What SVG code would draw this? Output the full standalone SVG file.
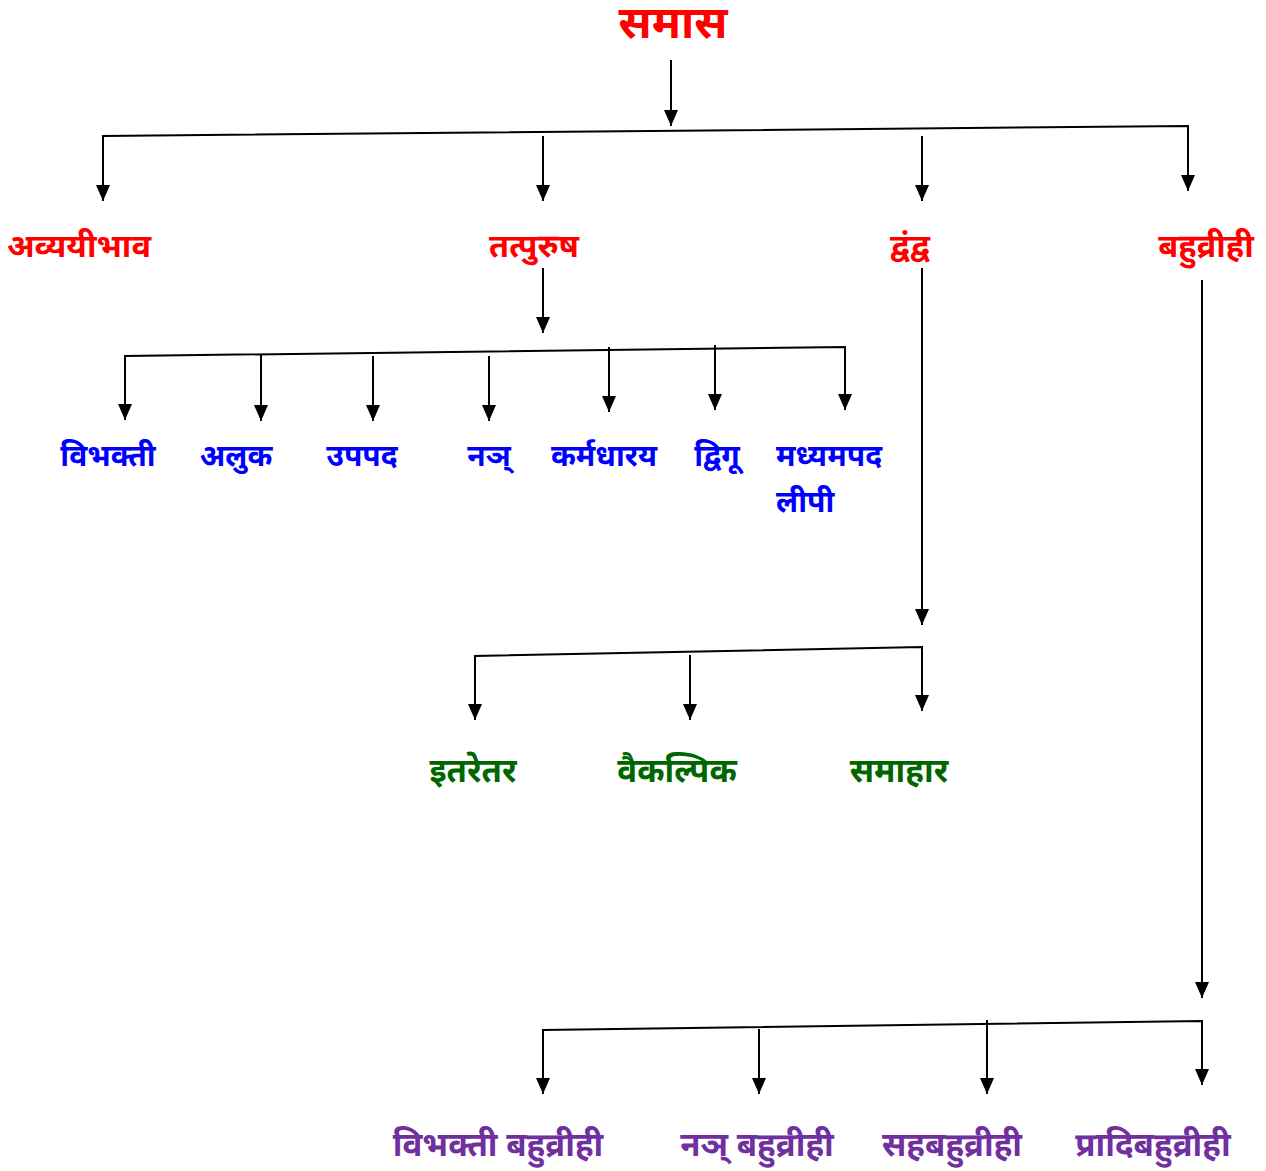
<svg xmlns="http://www.w3.org/2000/svg" width="1266" height="1171" viewBox="0 0 1266 1171">
<style>
text{font-family:"Noto Sans Devanagari","Lohit Devanagari","Noto Sans","DejaVu Sans",sans-serif;font-weight:bold}
.r{fill:#FF0000;font-size:32.5px}
.t{fill:#FF0000;font-size:45px}
.b{fill:#0000FF;font-size:30px}
.g{fill:#006600;font-size:33px}
.p{fill:#7030A0;font-size:33px}
.c line,.c polyline{stroke:#000;stroke-width:2;fill:none}
</style>
<defs>
<marker id="a" viewBox="0 0 16 14" refX="16" refY="7" markerWidth="16" markerHeight="14" markerUnits="userSpaceOnUse" orient="auto" overflow="visible">
<path d="M0,0 L16,7 L0,14 Z" fill="#000"/>
</marker>
</defs>
<rect width="1266" height="1171" fill="#fff"/>
<g class="c" id="connectors">
<line x1="671" y1="60" x2="671" y2="126" marker-end="url(#a)"/>
<polyline points="103,201 103,136 1188,126 1188,191" marker-end="url(#a)"/>
<line x1="103" y1="136" x2="103" y2="201" marker-end="url(#a)"/>
<line x1="543" y1="136" x2="543" y2="201" marker-end="url(#a)"/>
<line x1="922" y1="136" x2="922" y2="201" marker-end="url(#a)"/>
<line x1="543" y1="268" x2="543" y2="333" marker-end="url(#a)"/>
<polyline points="125,420 125,356 845,347 845,410" marker-end="url(#a)"/>
<line x1="125" y1="356" x2="125" y2="420" marker-end="url(#a)"/>
<line x1="261" y1="355" x2="261" y2="421" marker-end="url(#a)"/>
<line x1="373" y1="356" x2="373" y2="421" marker-end="url(#a)"/>
<line x1="489" y1="356" x2="489" y2="421" marker-end="url(#a)"/>
<line x1="609" y1="347" x2="609" y2="412" marker-end="url(#a)"/>
<line x1="715" y1="345" x2="715" y2="410" marker-end="url(#a)"/>
<line x1="922" y1="268" x2="922" y2="625" marker-end="url(#a)"/>
<polyline points="475,720 475,656 922,647 922,711" marker-end="url(#a)"/>
<line x1="475" y1="656" x2="475" y2="720" marker-end="url(#a)"/>
<line x1="690" y1="655" x2="690" y2="720" marker-end="url(#a)"/>
<line x1="1202" y1="280" x2="1202" y2="998" marker-end="url(#a)"/>
<polyline points="543,1094 543,1030 1202,1021 1202,1085" marker-end="url(#a)"/>
<line x1="543" y1="1030" x2="543" y2="1094" marker-end="url(#a)"/>
<line x1="759" y1="1029" x2="759" y2="1094" marker-end="url(#a)"/>
<line x1="987" y1="1020" x2="987" y2="1094" marker-end="url(#a)"/>
</g>
<g id="samas"><text class="t" x="673" y="38" text-anchor="middle">समास</text></g>
<g id="avyayibhav"><text class="r" x="79" y="257" text-anchor="middle">अव्ययीभाव</text></g>
<g id="tatpurush"><text class="r" x="534" y="257" text-anchor="middle">तत्पुरुष</text></g>
<g id="dvandva"><text class="r" x="910" y="257" text-anchor="middle">द्वंद्व</text></g>
<g id="bahuvrihi"><text class="r" x="1206" y="257" text-anchor="middle">बहुव्रीही</text></g>
<g id="vibhakti"><text class="b" x="108" y="466" text-anchor="middle">विभक्ती</text></g>
<g id="aluk"><text class="b" x="236" y="466" text-anchor="middle">अलुक</text></g>
<g id="upapad"><text class="b" x="362" y="466" text-anchor="middle">उपपद</text></g>
<g id="nan"><text class="b" x="489" y="466" text-anchor="middle">नञ्</text></g>
<g id="karmadharay"><text class="b" x="604" y="466" text-anchor="middle">कर्मधारय</text></g>
<g id="dvigu"><text class="b" x="717" y="466" text-anchor="middle">द्विगू</text></g>
<g id="madhyampad"><text class="b" x="776" y="466">मध्यमपद</text><text class="b" x="776" y="512">लीपी</text></g>
<g id="itaretar"><text class="g" x="473" y="782" text-anchor="middle">इतरेतर</text></g>
<g id="vaikalpik"><text class="g" x="677" y="782" text-anchor="middle">वैकल्पिक</text></g>
<g id="samahar"><text class="g" x="899" y="782" text-anchor="middle">समाहार</text></g>
<g id="vibhakti-bahuvrihi"><text class="p" x="498" y="1156" text-anchor="middle">विभक्ती बहुव्रीही</text></g>
<g id="nan-bahuvrihi"><text class="p" x="757" y="1156" text-anchor="middle">नञ् बहुव्रीही</text></g>
<g id="sahabahuvrihi"><text class="p" x="952" y="1156" text-anchor="middle">सहबहुव्रीही</text></g>
<g id="pradibahuvrihi"><text class="p" x="1153" y="1156" text-anchor="middle">प्रादिबहुव्रीही</text></g>
</svg>
